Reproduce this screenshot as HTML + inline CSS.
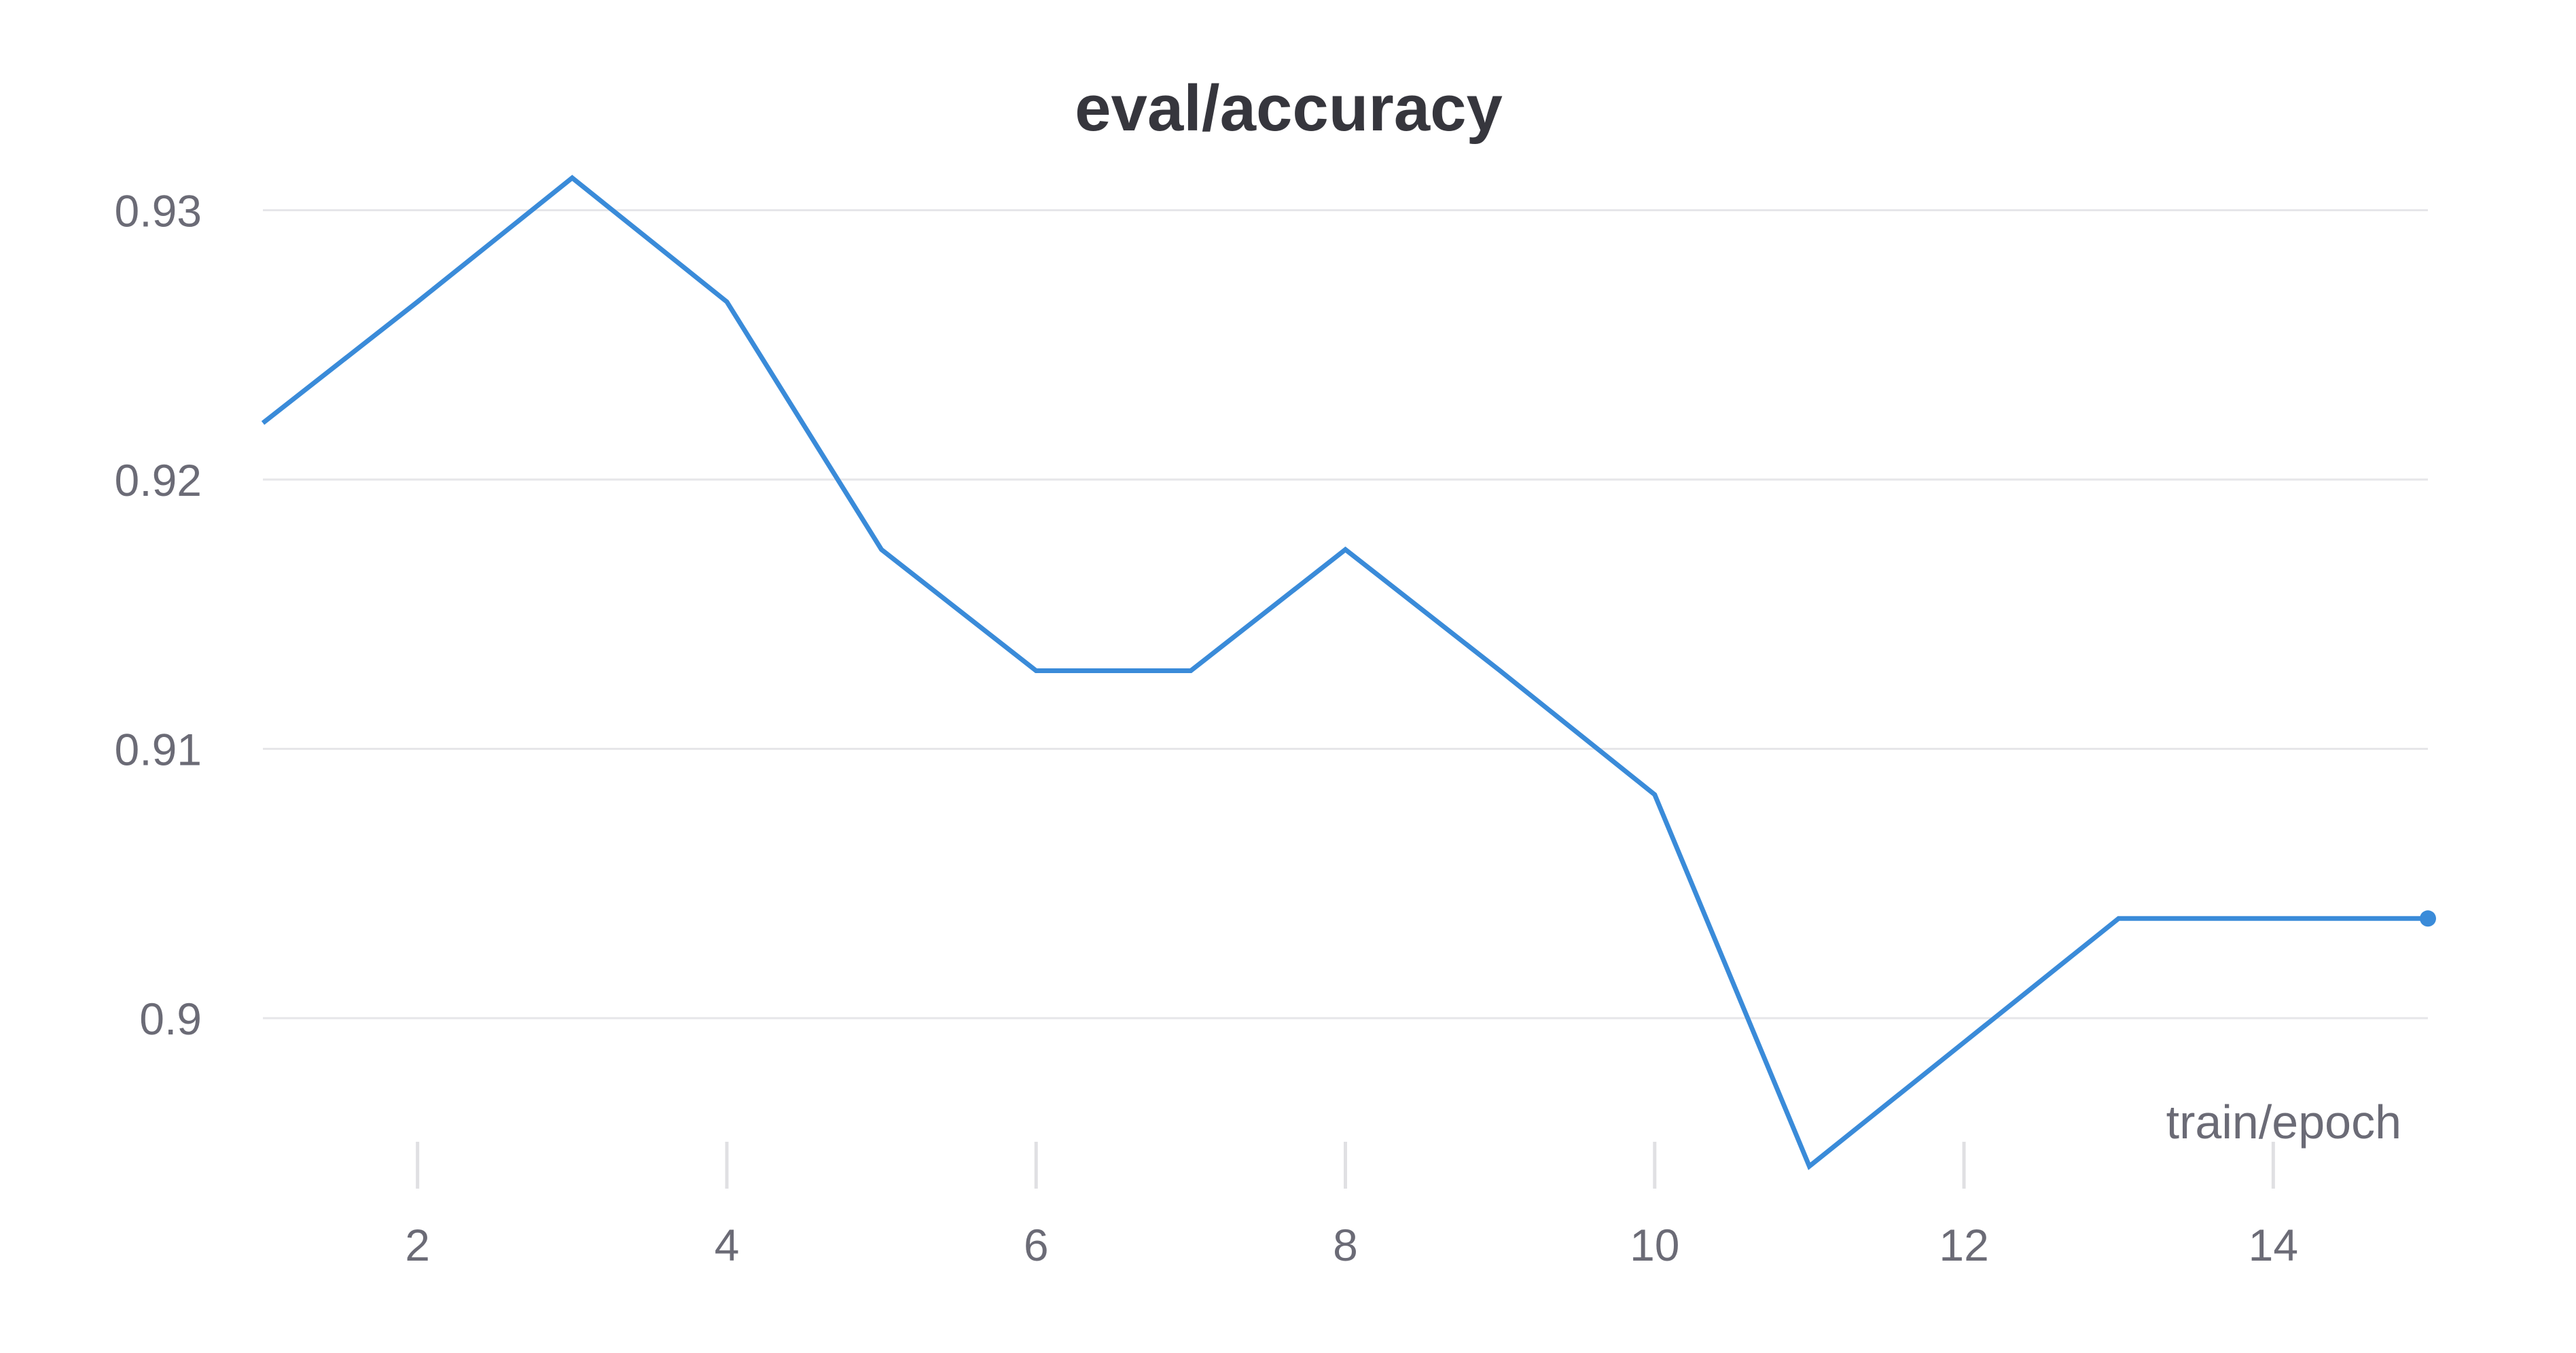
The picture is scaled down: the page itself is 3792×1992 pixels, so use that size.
<!DOCTYPE html>
<html><head><meta charset="utf-8"><style>
html,body{margin:0;padding:0;background:#fff;}
svg{display:block;font-family:"Liberation Sans",sans-serif;}
</style></head><body>
<svg id="chart" width="3792" height="1992" viewBox="0 0 3792 1992" xmlns="http://www.w3.org/2000/svg">
<text x="1897" y="192" text-anchor="middle" font-size="96" font-weight="bold" fill="#36363d">eval/accuracy</text>
<g id="grid"></g><g id="yticks"></g><g id="xticks"></g>
<text x="3535" y="1676" text-anchor="end" font-size="70" fill="#6b6b76">train/epoch</text>
<g id="series"></g>
</svg>
<script>
const epochs=[1,2,3,4,5,6,7,8,9,10,11,12,13,14,15];
const accuracy=[0.9221,0.9266,0.9312,0.9266,0.9174,0.9129,0.9129,0.9174,0.9129,0.9083,0.8945,0.8991,0.9037,0.9037,0.9037];
const yTicks=[0.90,0.91,0.92,0.93];
const yTickLabels=["0.9","0.91","0.92","0.93"];
const xTicks=[2,4,6,8,10,12,14];
const NS="http://www.w3.org/2000/svg";
const X0=387,X1=3574,Y0=1499,Y1=309.5;
function xs(v){return X0+(v-1)/(15-1)*(X1-X0);}
function ys(v){return Y0+(v-0.90)/(0.93-0.90)*(Y1-Y0);}
function mk(t,a,p){const e=document.createElementNS(NS,t);for(const k in a)e.setAttribute(k,a[k]);document.getElementById(p).appendChild(e);return e;}
yTicks.forEach((t,i)=>{
 const g=mk("line",{x1:X0,x2:X1,y1:ys(t),y2:ys(t),stroke:"#e6e6e9","stroke-width":3},"grid");
 
 
 const l=mk("text",{x:297,y:ys(t)+24,"text-anchor":"end","font-size":66,fill:"#6b6b76"},"yticks");
 l.textContent=yTickLabels[i];
 
 
});
xTicks.forEach(t=>{
 const m=mk("line",{x1:xs(t),x2:xs(t),y1:1681,y2:1750,stroke:"#e0e0e3","stroke-width":5},"xticks");
 
 
 const l=mk("text",{x:xs(t),y:1856,"text-anchor":"middle","font-size":66,fill:"#6b6b76"},"xticks");
 l.textContent=t;
 
 
});
const pts=epochs.map((e,i)=>xs(e)+","+ys(accuracy[i])).join(" ");
const pl=mk("polyline",{points:pts,fill:"none",stroke:"#3a8bd9","stroke-width":7,"stroke-linejoin":"miter"},"series");


const n=epochs.length-1;
const dot=mk("circle",{cx:xs(epochs[n]),cy:ys(accuracy[n]),r:12,fill:"#3a8bd9"},"series");


</script>
</body></html>
